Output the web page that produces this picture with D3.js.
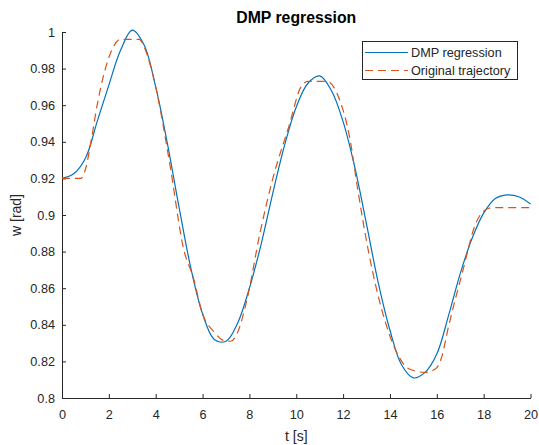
<!DOCTYPE html>
<html>
<head>
<meta charset="utf-8">
<script src="https://cdn.jsdelivr.net/npm/d3@7"></script>
<style>
  body { margin: 0; background: #fff; }
  text { font-family: Arial, "Liberation Sans", sans-serif; fill: #262626; }
</style>
</head>
<body>
<div id="chart"></div>
<script>
// DMP regression output, sampled every 0.5 s
var tFit = d3.range(0, 20.001, 0.5);
var wFit = [
  0.920, 0.9225, 0.931, 0.951, 0.971, 0.990, 1.001, 0.993, 0.970, 0.939,
  0.904, 0.871, 0.846, 0.832, 0.831, 0.841, 0.860, 0.884, 0.912, 0.938,
  0.959, 0.972, 0.976, 0.968, 0.951, 0.926, 0.895, 0.863, 0.837, 0.818,
  0.811, 0.814, 0.824, 0.845, 0.868, 0.887, 0.901, 0.909, 0.911, 0.910,
  0.906
];

// original trajectory
var tOrig = [0, 0.8, 1.0, 1.25, 1.5, 2.0, 2.5, 3.3, 3.5, 4.0, 4.6, 5.2, 5.6, 6.0,
  6.5, 7.0, 7.2, 7.5, 7.9, 8.45, 9.0, 9.7, 10.2, 10.5, 11.3, 11.85, 12.3, 12.6,
  13.1, 13.7, 14.25, 14.8, 15.5, 15.95, 16.2, 16.5, 17.1, 17.65, 18.1, 18.4, 20];
var wOrig = [0.920, 0.920, 0.925, 0.941, 0.960, 0.986, 0.996, 0.996, 0.992, 0.970,
  0.928, 0.881, 0.866, 0.846, 0.836, 0.831, 0.831, 0.836, 0.854, 0.890, 0.920,
  0.949, 0.970, 0.973, 0.973, 0.963, 0.941, 0.916, 0.879, 0.846, 0.826, 0.816,
  0.814, 0.816, 0.822, 0.839, 0.869, 0.895, 0.903, 0.904, 0.904];

var xTicks = d3.range(0, 21, 2);
var yTicks = d3.range(0.8, 1.0001, 0.02);
var legendLabels = ['DMP regression', 'Original trajectory'];

var chart_width = 539;
var chart_height = 445;
var plot_left = 62, plot_right = 530.5, plot_top = 32, plot_bottom = 398;

var svg = d3.select('#chart')
  .append('svg')
  .attr('width', chart_width)
  .attr('height', chart_height);

var xScale = d3.scaleLinear().domain([0, 20]).range([plot_left, plot_right]);
var yScale = d3.scaleLinear().domain([0.8, 1]).range([plot_bottom, plot_top]);

// axes, MATLAB style ticks pointing inward
var xAxis = d3.axisBottom(xScale)
  .tickValues(xTicks)
  .tickSize(-4)
  .tickPadding(12)
  .tickSizeOuter(0);
var yAxis = d3.axisLeft(yScale)
  .tickValues(yTicks)
  .tickFormat(d => String(+d.toFixed(2)))
  .tickSize(-4)
  .tickPadding(7)
  .tickSizeOuter(0);

var gx = svg.append('g')
  .attr('transform', `translate(0,${plot_bottom})`)
  .call(xAxis);
var gy = svg.append('g')
  .attr('transform', `translate(${plot_left},0)`)
  .call(yAxis);

[gx, gy].forEach(g => {
  g.selectAll('path, line').attr('stroke', '#262626');
  g.selectAll('text').attr('font-size', 12.7).attr('fill', '#262626')
    .style('font-family', 'Arial, "Liberation Sans", sans-serif');
});

// lines
var fitLine = d3.line()
  .x((d, i) => xScale(tFit[i]))
  .y(d => yScale(d))
  .curve(d3.curveCatmullRom);
var origLine = d3.line()
  .x((d, i) => xScale(tOrig[i]))
  .y(d => yScale(d))
  .curve(d3.curveMonotoneX);

svg.append('path')
  .attr('d', fitLine(wFit))
  .attr('fill', 'none')
  .attr('stroke', '#0072BD')
  .attr('stroke-width', 1.2);

svg.append('path')
  .attr('d', origLine(wOrig))
  .attr('fill', 'none')
  .attr('stroke', '#D95319')
  .attr('stroke-width', 1.2)
  .attr('stroke-dasharray', '8,5');

// title and labels
svg.append('text')
  .attr('x', (plot_left + plot_right) / 2)
  .attr('y', 23)
  .attr('text-anchor', 'middle')
  .attr('font-size', 15.8)
  .attr('font-weight', 'bold')
  .attr('fill', '#000')
  .style('fill', '#000')
  .text('DMP regression');

svg.append('text')
  .attr('x', (plot_left + plot_right) / 2)
  .attr('y', 441)
  .attr('text-anchor', 'middle')
  .attr('font-size', 14)
  .text('t [s]');

svg.append('text')
  .attr('transform', `translate(21,${(plot_top + plot_bottom) / 2}) rotate(-90)`)
  .attr('text-anchor', 'middle')
  .attr('font-size', 14)
  .text('w [rad]');

// legend
var legend = svg.append('g');
legend.append('rect')
  .attr('x', 362.5)
  .attr('y', 41.5)
  .attr('width', 155)
  .attr('height', 38)
  .attr('fill', '#fff')
  .attr('stroke', '#262626')
  .attr('stroke-width', 1);

var colors = ['#0072BD', '#D95319'];
var dashes = [null, '8,5'];
legendLabels.forEach((lab, i) => {
  var y = 52.5 + i * 18;
  legend.append('line')
    .attr('x1', 365).attr('x2', 408)
    .attr('y1', y).attr('y2', y)
    .attr('stroke', colors[i])
    .attr('stroke-width', 1.2)
    .attr('stroke-dasharray', dashes[i]);
  legend.append('text')
    .attr('x', 411)
    .attr('y', y + 4.5)
    .attr('font-size', 12.7)
    .text(lab);
});
</script>
</body>
</html>
